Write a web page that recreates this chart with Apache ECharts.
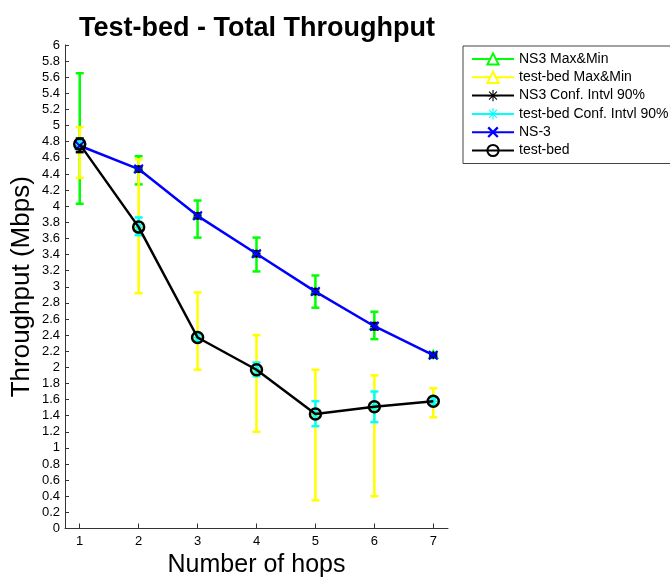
<!DOCTYPE html>
<html>
<head>
<meta charset="utf-8">
<script src="https://cdn.jsdelivr.net/npm/echarts@6/dist/echarts.min.js"></script>
<style>
  html, body { margin: 0; padding: 0; background: #fff; }
  #chart { width: 670px; height: 577px; }
</style>
</head>
<body>
<div id="chart"></div>
<script>
// Number of hops on the x axis
const hops = [1, 2, 3, 4, 5, 6, 7];
const xTicks = [1, 2, 3, 4, 5, 6, 7];

// Mean throughput (Mbps)
const ns3Mean = [4.75, 4.46, 3.88, 3.41, 2.94, 2.51, 2.15];
const bedMean = [4.77, 3.74, 2.37, 1.97, 1.42, 1.51, 1.58];

// Max & Min ranges
const ns3Max = [5.65, 4.62, 4.07, 3.61, 3.14, 2.69, 2.18];
const ns3Min = [4.03, 4.27, 3.61, 3.19, 2.74, 2.35, 2.13];
const bedMax = [4.98, 4.58, 2.93, 2.40, 1.97, 1.90, 1.74];
const bedMin = [4.35, 2.92, 1.97, 1.20, 0.35, 0.40, 1.38];

// 90% confidence intervals
const ns3CiHigh = [4.84, 4.49, 3.91, 3.44, 2.97, 2.55, 2.17];
const ns3CiLow  = [4.67, 4.43, 3.85, 3.38, 2.91, 2.47, 2.13];
const bedCiHigh = [4.80, 3.86, 2.42, 2.06, 1.58, 1.70, 1.63];
const bedCiLow  = [4.74, 3.64, 2.32, 1.89, 1.27, 1.32, 1.54];

const FONT = '"Liberation Sans", Arial, sans-serif';

// Filled marker shapes
const STAR_PATH = 'path://M-1,-10 L1,-10 L1,10 L-1,10 Z M-10,-1 L10,-1 L10,1 L-10,1 Z ' +
  'M-7.7,-6.3 L-6.3,-7.7 L7.7,6.3 L6.3,7.7 Z M6.3,-7.7 L7.7,-6.3 L-6.3,7.7 L-7.7,6.3 Z';
const CROSS_PATH = 'path://M-7,-5 L-5,-7 L0,-2 L5,-7 L7,-5 L2,0 L7,5 L5,7 L0,2 L-5,7 L-7,5 L-2,0 Z';

// Vertical error bar with caps and a small centre marker
function errorBars(name, color, low, high, mid, marker, z) {
  return {
    type: 'custom',
    name: name,
    z: z,
    data: hops.map((h, i) => [h, low[i], high[i], mid[i]]),
    encode: { x: 0, y: [1, 2] },
    renderItem: function (params, api) {
      const x = api.value(0);
      const top = api.coord([x, api.value(2)]);
      const bot = api.coord([x, api.value(1)]);
      const c = api.coord([x, api.value(3)]);
      const hw = 4;
      const st = { stroke: color, lineWidth: 2.5, fill: null };
      const kids = [
        { type: 'line', shape: { x1: top[0], y1: top[1], x2: bot[0], y2: bot[1] }, style: st },
        { type: 'line', shape: { x1: top[0] - hw, y1: top[1], x2: top[0] + hw, y2: top[1] }, style: st },
        { type: 'line', shape: { x1: bot[0] - hw, y1: bot[1], x2: bot[0] + hw, y2: bot[1] }, style: st }
      ];
      const ms = { stroke: color, lineWidth: 1.5, fill: null };
      if (marker === 'triangle') {
        kids.push({ type: 'polygon', shape: { points: [[c[0], c[1] - 5], [c[0] - 4.5, c[1] + 3], [c[0] + 4.5, c[1] + 3]] }, style: ms });
      } else {
        const r = 4;
        kids.push({ type: 'line', shape: { x1: c[0] - r, y1: c[1], x2: c[0] + r, y2: c[1] }, style: ms });
        kids.push({ type: 'line', shape: { x1: c[0], y1: c[1] - r, x2: c[0], y2: c[1] + r }, style: ms });
        kids.push({ type: 'line', shape: { x1: c[0] - 3, y1: c[1] - 3, x2: c[0] + 3, y2: c[1] + 3 }, style: ms });
        kids.push({ type: 'line', shape: { x1: c[0] - 3, y1: c[1] + 3, x2: c[0] + 3, y2: c[1] - 3 }, style: ms });
      }
      return { type: 'group', children: kids };
    }
  };
}

// Empty line series that only supply legend icons (line + marker)
function legendEntry(name, color, symbol, symbolSize) {
  return {
    type: 'line', name: name, data: [],
    symbol: symbol, symbolSize: symbolSize,
    itemStyle: { color: color, borderColor: color },
    lineStyle: { color: color, width: 2.5 }
  };
}

const chart = echarts.init(document.getElementById('chart'), null, { renderer: 'canvas' });

chart.setOption({
  animation: false,
  backgroundColor: '#fff',
  title: {
    text: 'Test-bed - Total Throughput',
    left: 252, top: 10, textAlign: 'center',
    textStyle: { fontFamily: FONT, fontWeight: 'bold', fontSize: 27, color: '#000' }
  },
  legend: {
    orient: 'vertical',
    left: 463, top: 46,
    padding: [6, 8, 6, 8],
    itemGap: 4.3,
    itemWidth: 42, itemHeight: 14,
    backgroundColor: '#fff',
    borderColor: '#444', borderWidth: 1, borderRadius: 0,
    textStyle: { fontFamily: FONT, fontSize: 14, color: '#000' },
    data: ['NS3 Max&Min', 'test-bed Max&Min', 'NS3 Conf. Intvl 90%', 'test-bed Conf. Intvl 90%', 'NS-3', 'test-bed']
  },
  grid: { left: 65, right: 222, top: 45, bottom: 48.5, outerBoundsMode: 'none', containLabel: false },
  xAxis: {
    type: 'value', min: 0.75, max: 7.25,
    name: 'Number of hops', nameLocation: 'middle', nameGap: 22,
    nameTextStyle: { fontFamily: FONT, fontSize: 25, color: '#000' },
    axisLine: { lineStyle: { color: '#333', width: 1 } },
    axisTick: { inside: true, length: 5, customValues: xTicks, lineStyle: { color: '#333' } },
    axisLabel: { customValues: xTicks, fontFamily: FONT, fontSize: 13, color: '#000', margin: 6 },
    splitLine: { show: false }
  },
  yAxis: {
    type: 'value', min: 0, max: 6, interval: 0.2,
    name: 'Throughput (Mbps)', nameLocation: 'middle', nameGap: 30, nameMoveOverlap: false,
    nameTextStyle: { fontFamily: FONT, fontSize: 26, color: '#000' },
    axisLine: { show: true, lineStyle: { color: '#333', width: 1 } },
    axisTick: { show: true, inside: true, length: 4, lineStyle: { color: '#333' } },
    axisLabel: { fontFamily: FONT, fontSize: 13, color: '#000', margin: 5 },
    splitLine: { show: false }
  },
  series: [
    legendEntry('NS3 Max&Min', '#00ff00', 'emptyTriangle', 7),
    legendEntry('test-bed Max&Min', '#ffff00', 'emptyTriangle', 7),
    legendEntry('NS3 Conf. Intvl 90%', '#000000', STAR_PATH, 8),
    legendEntry('test-bed Conf. Intvl 90%', '#00ffff', STAR_PATH, 8),
    errorBars('NS3 Max&Min', '#00ff00', ns3Min, ns3Max, ns3Mean, 'triangle', 2),
    errorBars('test-bed Max&Min', '#ffff00', bedMin, bedMax, bedMean, 'triangle', 3),
    errorBars('NS3 Conf. Intvl 90%', '#000000', ns3CiLow, ns3CiHigh, ns3Mean, 'star', 4),
    errorBars('test-bed Conf. Intvl 90%', '#00ffff', bedCiLow, bedCiHigh, bedMean, 'star', 5),
    {
      type: 'line', name: 'NS-3', z: 6,
      data: hops.map((h, i) => [h, ns3Mean[i]]),
      symbol: CROSS_PATH, symbolSize: 10,
      itemStyle: { color: '#0000ff' },
      lineStyle: { color: '#0000ff', width: 2.5 }
    },
    {
      type: 'line', name: 'test-bed', z: 7,
      data: hops.map((h, i) => [h, bedMean[i]]),
      symbol: 'circle', symbolSize: 11,
      itemStyle: { color: 'rgba(0,0,0,0)', borderColor: '#000', borderWidth: 2.5 },
      lineStyle: { color: '#000', width: 2.5 }
    }
  ]
});
</script>
</body>
</html>
